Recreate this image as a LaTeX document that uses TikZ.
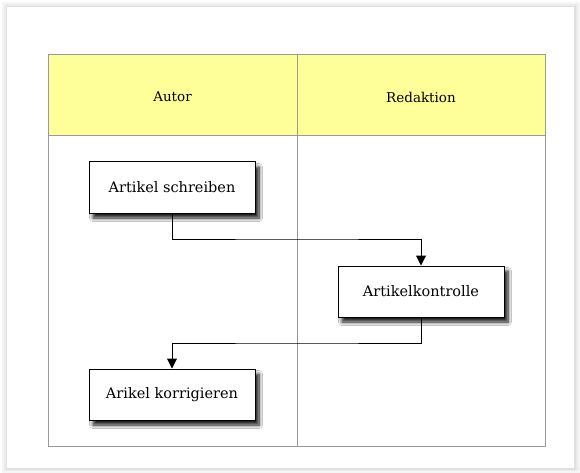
\documentclass[tikz,border=0pt]{standalone}
\usepackage{fontspec}
\setmainfont{DejaVu Serif}
\usetikzlibrary{arrows.meta,shadows.blur}
\definecolor{lanehead}{HTML}{FFFF99}
\definecolor{lanegray}{HTML}{999999}
\tikzset{
  x=1pt,y=-1pt,
  stepbox/.style={draw=black, line width=1pt, fill=white, minimum width=166pt, minimum height=51pt,
    font=\fontsize{14.5}{16}\selectfont, inner sep=0pt,
    blur shadow={shadow xshift=4pt, shadow yshift=-5pt, shadow blur steps=8, shadow blur radius=3.5pt, shadow opacity=90}},
  flow/.style={line width=1pt, -{Triangle[length=10pt,width=10pt]}},
  lane/.style={draw=lanegray, line width=1pt},
  headtext/.style={font=\fontsize{13.5}{16}\selectfont}
}
\begin{document}
\begin{tikzpicture}
\useasboundingbox (0,0) rectangle (580,473);
\fill[white] (0,0) rectangle (580,473);
% page with shadow
\fill[black!4] (2,2) rectangle (580,473);
\fill[black!8] (4,4) rectangle (578,471);
\fill[black!12] (6,6) rectangle (576,470);
\fill[white] (7,7) rectangle (574,468);
% swimlanes
\fill[lanehead] (48,55) rectangle (545,136);
\draw[lane] (48,55) rectangle (545,446);
\draw[lane] (48,136) -- (545,136);
\draw[lane] (297,55) -- (297,446);
\node[headtext] (hA) at (172.5,97) {Autor};
\node[headtext] (hR) at (421,97) {Redaktion};
% steps
\node[stepbox] (s1) at (172,187.5) {Artikel schreiben};
\node[stepbox] (s2) at (421,291.5) {Artikelkontrolle};
\node[stepbox] (s3) at (172,394.5) {Arikel korrigieren};
% connectors
\draw[flow] (s1.south) |- (297,239) -| (s2.north);
\draw[flow] (s2.south) |- (297,343) -| (s3.north);
\end{tikzpicture}
\end{document}
